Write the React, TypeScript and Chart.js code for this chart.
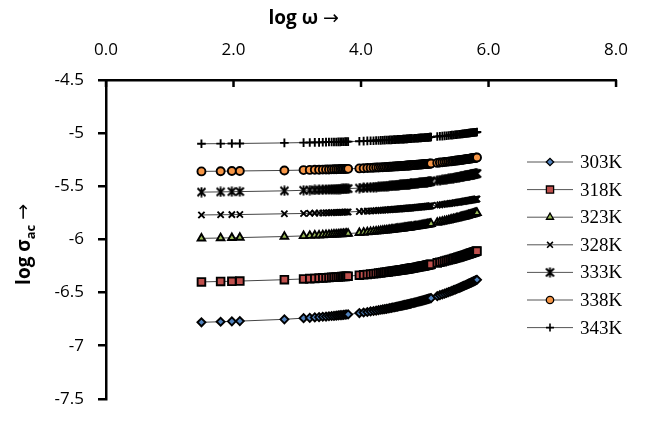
import React, { useEffect, useRef } from 'react';
import { Chart, registerables } from 'chart.js';
import { drawPoint } from 'chart.js/helpers';

Chart.register(...registerables);

// log ω values (x axis)
const logOmega = [
  1.497, 1.798, 1.974, 2.099, 2.798,
  3.099, 3.196, 3.275, 3.342, 3.400, 3.451, 3.497, 3.539, 3.576, 3.611, 3.643, 3.673, 3.700, 3.727, 3.752, 3.775, 3.798,
  3.974, 4.041, 4.099, 4.150, 4.196, 4.237, 4.275, 4.310, 4.342, 4.372, 4.400, 4.426, 4.451, 4.475, 4.497, 4.518, 4.539, 4.558, 4.576, 4.594,
  4.611, 4.627, 4.643, 4.658, 4.673, 4.687, 4.701, 4.715, 4.727, 4.740, 4.752, 4.764, 4.776, 4.787, 4.798,
  4.819, 4.840, 4.859, 4.877, 4.895, 4.912, 4.928, 4.944, 4.959, 4.974, 4.988, 5.002, 5.016, 5.029, 5.041, 5.053, 5.065, 5.077, 5.088, 5.099,
  5.196, 5.237, 5.275, 5.310, 5.342, 5.372, 5.400, 5.426, 5.451, 5.475, 5.497, 5.518, 5.539, 5.558, 5.576, 5.594, 5.611, 5.627, 5.643, 5.658,
  5.673, 5.687, 5.701, 5.715, 5.727, 5.740, 5.752, 5.764, 5.776, 5.787, 5.798, 5.809, 5.819];

// log σac values per temperature
const s303K = [
  -6.780, -6.775, -6.771, -6.769, -6.752,
  -6.741, -6.738, -6.734, -6.731, -6.728, -6.726, -6.723, -6.721, -6.719, -6.717, -6.715, -6.713, -6.712, -6.710, -6.708, -6.707, -6.706,
  -6.693, -6.688, -6.683, -6.678, -6.674, -6.670, -6.666, -6.662, -6.659, -6.656, -6.653, -6.650, -6.647, -6.644, -6.641, -6.639, -6.636, -6.634, -6.632, -6.629,
  -6.627, -6.625, -6.623, -6.621, -6.619, -6.617, -6.615, -6.613, -6.612, -6.610, -6.608, -6.606, -6.605, -6.603, -6.601,
  -6.598, -6.595, -6.592, -6.589, -6.586, -6.584, -6.581, -6.578, -6.576, -6.573, -6.571, -6.569, -6.566, -6.564, -6.562, -6.560, -6.558, -6.556, -6.554, -6.552,
  -6.534, -6.525, -6.518, -6.510, -6.503, -6.497, -6.490, -6.484, -6.478, -6.472, -6.467, -6.462, -6.457, -6.452, -6.447, -6.442, -6.438, -6.434, -6.429, -6.425,
  -6.421, -6.417, -6.413, -6.409, -6.406, -6.402, -6.399, -6.395, -6.392, -6.389, -6.385, -6.382, -6.380];
const s318K = [
  -6.400, -6.396, -6.394, -6.392, -6.379,
  -6.372, -6.369, -6.367, -6.364, -6.362, -6.361, -6.359, -6.357, -6.356, -6.354, -6.353, -6.352, -6.350, -6.349, -6.348, -6.347, -6.346,
  -6.337, -6.333, -6.330, -6.326, -6.323, -6.320, -6.317, -6.315, -6.312, -6.310, -6.308, -6.306, -6.303, -6.301, -6.300, -6.298, -6.296, -6.294, -6.292, -6.291,
  -6.289, -6.288, -6.286, -6.285, -6.283, -6.282, -6.281, -6.279, -6.278, -6.277, -6.275, -6.274, -6.273, -6.272, -6.270,
  -6.268, -6.266, -6.264, -6.262, -6.260, -6.258, -6.256, -6.254, -6.252, -6.250, -6.249, -6.247, -6.245, -6.244, -6.242, -6.240, -6.239, -6.237, -6.236, -6.234,
  -6.221, -6.215, -6.210, -6.204, -6.199, -6.194, -6.190, -6.186, -6.181, -6.177, -6.173, -6.169, -6.166, -6.162, -6.159, -6.155, -6.152, -6.149, -6.146, -6.143,
  -6.140, -6.137, -6.134, -6.131, -6.129, -6.126, -6.124, -6.121, -6.119, -6.116, -6.114, -6.112, -6.110];
const s323K = [
  -5.990, -5.987, -5.985, -5.983, -5.973,
  -5.967, -5.965, -5.962, -5.961, -5.959, -5.957, -5.956, -5.955, -5.953, -5.952, -5.951, -5.950, -5.949, -5.948, -5.947, -5.946, -5.945,
  -5.938, -5.935, -5.932, -5.929, -5.926, -5.924, -5.922, -5.919, -5.917, -5.915, -5.914, -5.912, -5.910, -5.908, -5.907, -5.905, -5.904, -5.902, -5.901, -5.900,
  -5.898, -5.897, -5.896, -5.895, -5.893, -5.892, -5.891, -5.890, -5.889, -5.888, -5.887, -5.886, -5.885, -5.884, -5.883,
  -5.881, -5.879, -5.877, -5.876, -5.874, -5.872, -5.871, -5.869, -5.868, -5.866, -5.865, -5.863, -5.862, -5.861, -5.859, -5.858, -5.857, -5.855, -5.854, -5.853,
  -5.842, -5.837, -5.833, -5.828, -5.824, -5.820, -5.816, -5.812, -5.809, -5.805, -5.802, -5.799, -5.796, -5.793, -5.790, -5.787, -5.785, -5.782, -5.780, -5.777,
  -5.775, -5.772, -5.770, -5.768, -5.766, -5.763, -5.761, -5.759, -5.757, -5.755, -5.753, -5.751, -5.750];
const s328K = [
  -5.770, -5.768, -5.767, -5.766, -5.759,
  -5.756, -5.754, -5.753, -5.752, -5.751, -5.750, -5.749, -5.748, -5.747, -5.746, -5.746, -5.745, -5.744, -5.744, -5.743, -5.743, -5.742,
  -5.737, -5.735, -5.734, -5.732, -5.730, -5.729, -5.727, -5.726, -5.725, -5.723, -5.722, -5.721, -5.720, -5.719, -5.718, -5.717, -5.716, -5.715, -5.714, -5.714,
  -5.713, -5.712, -5.711, -5.710, -5.710, -5.709, -5.708, -5.707, -5.707, -5.706, -5.706, -5.705, -5.704, -5.704, -5.703,
  -5.702, -5.701, -5.700, -5.698, -5.697, -5.696, -5.695, -5.694, -5.694, -5.693, -5.692, -5.691, -5.690, -5.689, -5.688, -5.688, -5.687, -5.686, -5.685, -5.684,
  -5.678, -5.675, -5.672, -5.669, -5.666, -5.664, -5.661, -5.659, -5.657, -5.655, -5.653, -5.651, -5.649, -5.647, -5.645, -5.643, -5.642, -5.640, -5.639, -5.637,
  -5.635, -5.634, -5.633, -5.631, -5.630, -5.628, -5.627, -5.626, -5.624, -5.623, -5.622, -5.621, -5.620];
const s333K = [
  -5.555, -5.553, -5.551, -5.550, -5.543,
  -5.538, -5.536, -5.535, -5.534, -5.532, -5.531, -5.530, -5.529, -5.528, -5.527, -5.527, -5.526, -5.525, -5.524, -5.524, -5.523, -5.522,
  -5.517, -5.515, -5.512, -5.510, -5.509, -5.507, -5.505, -5.504, -5.502, -5.501, -5.499, -5.498, -5.497, -5.496, -5.494, -5.493, -5.492, -5.491, -5.490, -5.489,
  -5.488, -5.487, -5.486, -5.485, -5.485, -5.484, -5.483, -5.482, -5.481, -5.481, -5.480, -5.479, -5.478, -5.478, -5.477,
  -5.475, -5.474, -5.473, -5.472, -5.470, -5.469, -5.468, -5.467, -5.466, -5.465, -5.464, -5.463, -5.462, -5.461, -5.460, -5.459, -5.458, -5.457, -5.456, -5.455,
  -5.447, -5.444, -5.440, -5.437, -5.434, -5.431, -5.428, -5.426, -5.423, -5.420, -5.418, -5.416, -5.414, -5.411, -5.409, -5.407, -5.405, -5.403, -5.402, -5.400,
  -5.398, -5.396, -5.395, -5.393, -5.391, -5.390, -5.388, -5.387, -5.385, -5.384, -5.382, -5.381, -5.380];
const s338K = [
  -5.360, -5.358, -5.357, -5.356, -5.351,
  -5.348, -5.346, -5.345, -5.344, -5.343, -5.342, -5.342, -5.341, -5.340, -5.340, -5.339, -5.338, -5.338, -5.337, -5.337, -5.336, -5.336,
  -5.332, -5.330, -5.328, -5.327, -5.326, -5.324, -5.323, -5.322, -5.321, -5.320, -5.319, -5.318, -5.317, -5.316, -5.315, -5.314, -5.313, -5.313, -5.312, -5.311,
  -5.310, -5.310, -5.309, -5.308, -5.308, -5.307, -5.306, -5.306, -5.305, -5.305, -5.304, -5.304, -5.303, -5.302, -5.302,
  -5.301, -5.300, -5.299, -5.298, -5.297, -5.296, -5.295, -5.295, -5.294, -5.293, -5.292, -5.291, -5.291, -5.290, -5.289, -5.289, -5.288, -5.287, -5.287, -5.286,
  -5.280, -5.277, -5.275, -5.272, -5.270, -5.268, -5.266, -5.264, -5.262, -5.260, -5.258, -5.257, -5.255, -5.253, -5.252, -5.250, -5.249, -5.247, -5.246, -5.245,
  -5.243, -5.242, -5.241, -5.240, -5.238, -5.237, -5.236, -5.235, -5.234, -5.233, -5.232, -5.231, -5.230];
const s343K = [
  -5.100, -5.099, -5.098, -5.097, -5.092,
  -5.089, -5.088, -5.087, -5.087, -5.086, -5.085, -5.084, -5.084, -5.083, -5.083, -5.082, -5.082, -5.081, -5.081, -5.080, -5.080, -5.080,
  -5.076, -5.075, -5.073, -5.072, -5.071, -5.070, -5.069, -5.068, -5.067, -5.066, -5.065, -5.064, -5.063, -5.063, -5.062, -5.061, -5.061, -5.060, -5.059, -5.059,
  -5.058, -5.057, -5.057, -5.056, -5.056, -5.055, -5.055, -5.054, -5.054, -5.053, -5.053, -5.052, -5.052, -5.051, -5.051,
  -5.050, -5.049, -5.048, -5.048, -5.047, -5.046, -5.045, -5.045, -5.044, -5.043, -5.043, -5.042, -5.041, -5.041, -5.040, -5.040, -5.039, -5.038, -5.038, -5.037,
  -5.032, -5.030, -5.028, -5.026, -5.024, -5.022, -5.020, -5.019, -5.017, -5.015, -5.014, -5.013, -5.011, -5.010, -5.008, -5.007, -5.006, -5.005, -5.004, -5.002,
  -5.001, -5.000, -4.999, -4.998, -4.997, -4.996, -4.995, -4.994, -4.993, -4.992, -4.992, -4.991, -4.990];

const seriesLabels = ['303K', '318K', '323K', '328K', '333K', '338K', '343K'];
const seriesValues = [s303K, s318K, s323K, s328K, s333K, s338K, s343K];
const xTickValues = [0, 2, 4, 6, 8];

const SANS = '"Open Sans", "DejaVu Sans", sans-serif';
const SERIF = '"Liberation Serif", "DejaVu Serif", serif';

function makeStar(): HTMLCanvasElement {
  const c = document.createElement('canvas');
  c.width = 11; c.height = 11;
  const g = c.getContext('2d')!;
  g.strokeStyle = '#000';
  g.lineWidth = 1.9;
  g.beginPath();
  g.moveTo(1.5, 1.5); g.lineTo(9.5, 9.5);
  g.moveTo(9.5, 1.5); g.lineTo(1.5, 9.5);
  g.moveTo(5.5, 0.5); g.lineTo(5.5, 10.5);
  g.stroke();
  return c;
}

export default function App() {
  const ref = useRef<HTMLCanvasElement | null>(null);
  useEffect(() => {
    document.body.style.margin = '0';
    const star = makeStar();
    const styles: any[] = [
      { pointStyle: 'rectRot', radius: 4, fill: '#4F81BD', bw: 1.9 },
      { pointStyle: 'rect', radius: 5.4, fill: '#C0504D', bw: 1.9 },
      { pointStyle: 'triangle', radius: 4.4, fill: '#9BBB59', bw: 1.9 },
      { pointStyle: 'crossRot', radius: 4.4, fill: '#000', bw: 1.9 },
      { pointStyle: star, radius: 5, fill: '#000', bw: 1.9 },
      { pointStyle: 'circle', radius: 4, fill: '#F79646', bw: 1.9 },
      { pointStyle: 'cross', radius: 4.3, fill: '#000', bw: 1.9 },
    ];
    const legendBw = [1.3, 1.3, 1.3, 1.6, 1.6, 1.3, 1.6];
    const datasets = seriesLabels.map((label, i) => ({
      label,
      data: logOmega.map((x, j) => ({ x, y: seriesValues[i][j] })),
      showLine: true,
      borderColor: '#444',
      borderWidth: 1,
      pointStyle: styles[i].pointStyle,
      pointRadius: styles[i].radius,
      pointBackgroundColor: styles[i].fill,
      pointBorderColor: '#000',
      pointBorderWidth: styles[i].bw,
    }));

    const decor = {
      id: 'decor',
      afterDraw(chart: any) {
        const ctx = chart.ctx;
        const xs = chart.scales.x;
        const area = chart.chartArea;
        ctx.save();
        // inward tick marks on the top axis
        ctx.strokeStyle = '#000';
        ctx.lineWidth = 2.5;
        xTickValues.forEach((v) => {
          const px = xs.getPixelForValue(v);
          ctx.beginPath();
          ctx.moveTo(px, area.top);
          ctx.lineTo(px, area.top + 7);
          ctx.stroke();
        });
        // top title
        ctx.fillStyle = '#000';
        ctx.textBaseline = 'middle';
        ctx.textAlign = 'left';
        const t1 = 'log ω';
        const t2 = ' →';
        ctx.font = `bold 19px ${SANS}`;
        const w1 = ctx.measureText(t1).width;
        ctx.font = `19px ${SANS}`;
        const w2 = ctx.measureText(t2).width;
        const cx = xs.getPixelForValue(3.1);
        const sx = cx - (w1 + w2) / 2;
        ctx.font = `bold 19px ${SANS}`;
        ctx.fillText(t1, sx, 19);
        ctx.font = `19px ${SANS}`;
        ctx.fillText(t2, sx + w1, 19);

        // rotated y title with subscript
        ctx.save();
        ctx.translate(25, (area.top + area.bottom) / 2 + 5);
        ctx.rotate(-Math.PI / 2);
        ctx.font = `bold 19px ${SANS}`;
        const a = 'log σ';
        const wa = ctx.measureText(a).width;
        ctx.font = `bold 13px ${SANS}`;
        const b = 'ac';
        const wb = ctx.measureText(b).width;
        ctx.font = `19px ${SANS}`;
        const c = ' →';
        const wc = ctx.measureText(c).width;
        const ox = -(wa + wb + wc) / 2;
        ctx.font = `bold 19px ${SANS}`;
        ctx.fillText(a, ox, 0);
        ctx.font = `bold 13px ${SANS}`;
        ctx.fillText(b, ox + wa, 6);
        ctx.font = `19px ${SANS}`;
        ctx.fillText(c, ox + wa + wb, -1);
        ctx.restore();

        // legend
        const lx0 = 527, lx1 = 573, tx = 580, ly0 = 162, dy = 27.6;
        seriesLabels.forEach((label, i) => {
          const y = ly0 + i * dy;
          ctx.strokeStyle = '#555';
          ctx.lineWidth = 1;
          ctx.beginPath();
          ctx.moveTo(lx0, y);
          ctx.lineTo(lx1, y);
          ctx.stroke();
          ctx.fillStyle = styles[i].fill;
          ctx.strokeStyle = '#000';
          ctx.lineWidth = legendBw[i];
          drawPoint(ctx, { pointStyle: styles[i].pointStyle, radius: styles[i].radius - 0.3, borderWidth: legendBw[i], rotation: 0 } as any, (lx0 + lx1) / 2, y);
          ctx.fillStyle = '#000';
          ctx.font = `19px ${SERIF}`;
          ctx.textAlign = 'left';
          ctx.textBaseline = 'middle';
          ctx.fillText(label, tx, y + 1);
        });
        ctx.restore();
      },
    };

    const chart = new Chart(ref.current!, {
      type: 'scatter',
      data: { datasets },
      plugins: [decor],
      options: {
        animation: false,
        responsive: false,
        devicePixelRatio: 1,
        layout: { padding: { left: 0, right: 29, top: 0, bottom: 13 } },
        plugins: { legend: { display: false }, tooltip: { enabled: false }, title: { display: false } },
        scales: {
          x: {
            type: 'linear',
            position: 'top',
            min: 0,
            max: 8,
            afterFit: (s: any) => { s.height = 80; },
            ticks: {
              stepSize: 2,
              callback: (v: any) => Number(v).toFixed(1),
              color: '#000',
              font: { family: SANS, size: 17 },
              padding: 20,
            },
            grid: { display: false, drawTicks: false },
            border: { display: true, color: '#000', width: 2.5 },
          },
          y: {
            type: 'linear',
            min: -7.5,
            max: -4.5,
            afterFit: (s: any) => { s.width = 106; },
            ticks: {
              stepSize: 0.5,
              callback: (v: any) => String(v),
              color: '#000',
              font: { family: SANS, size: 17 },
              padding: 14,
            },
            grid: { display: true, drawOnChartArea: false, drawTicks: true, tickLength: 8, color: '#000', lineWidth: 2.5 },
            border: { display: true, color: '#000', width: 2.5 },
          },
        },
      },
    });
    return () => chart.destroy();
  }, []);
  return (
    <div style={{ width: 648, height: 423, background: '#fff' }}>
      <canvas ref={ref} width={648} height={423} style={{ display: 'block' }} />
    </div>
  );
}
